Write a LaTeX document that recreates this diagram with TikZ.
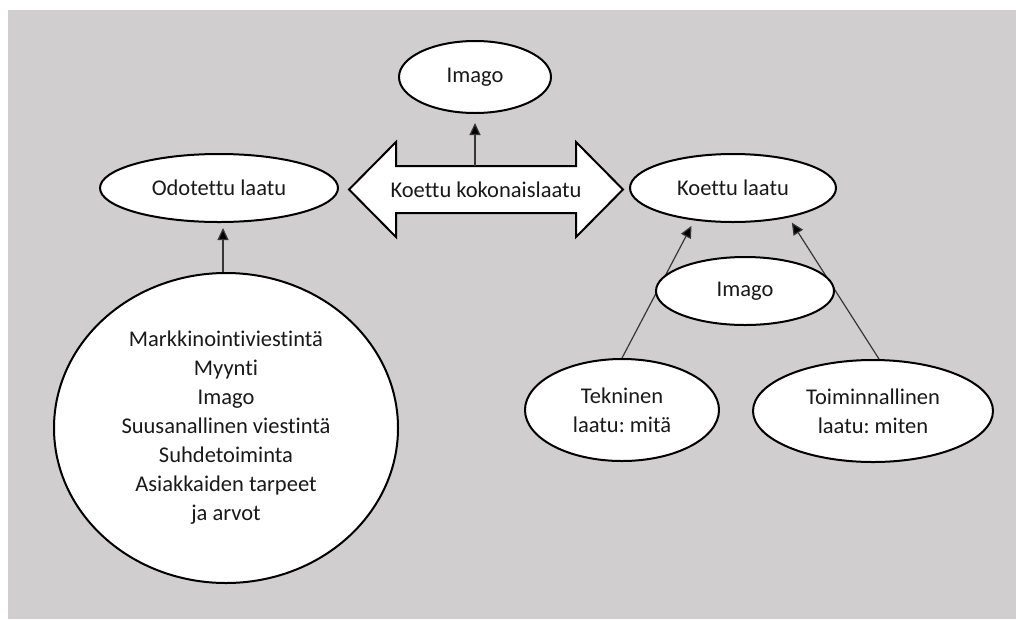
\documentclass[tikz,border=0pt]{standalone}
\usepackage{fontspec}
\setmainfont{Carlito}[Ligatures=NoCommon]
\usetikzlibrary{arrows.meta,calc,shapes.geometric}
\definecolor{bggrey}{RGB}{208,206,207}
\definecolor{txt}{RGB}{25,25,25}
\definecolor{connc}{RGB}{55,55,55}
\frenchspacing
\begin{document}
\begin{tikzpicture}[x=1pt,y=-1pt,
  oval/.style={ellipse,draw=black,line width=2pt,fill=white,inner sep=0pt,
    text=txt,font=\fontsize{22.5}{29}\selectfont,align=center},
  conn/.style={draw=connc,line width=1.2pt,-{Triangle[length=12pt,width=11pt,fill=black]}},
  bigarrow/.style={draw=black,line width=2pt,fill=white,line join=miter},
  labeltext/.style={inner sep=0pt,text=txt,font=\fontsize{22.5}{29}\selectfont}
]
\useasboundingbox (0,0) rectangle (1016,619);
\fill[bggrey] (8,10) rectangle (1016,619);

% left side
\node[oval,minimum width=238pt,minimum height=68pt] (odo) at (219,188) {Odotettu laatu};
\node[oval,minimum width=344pt,minimum height=310pt] (big) at (226,428)
  {Markkinointiviestintä\\Myynti\\Imago\\Suusanallinen viestintä\\Suhdetoiminta\\Asiakkaiden tarpeet\\ja arvot};
\draw[conn,shorten >=5pt] ([xshift=-3pt]big.north) -- ([xshift=-3pt]big.north |- odo.south);

% top
\node[oval,minimum width=152pt,minimum height=72pt] (img1) at (475,77) {Imago};
\draw[bigarrow] (396,166) -- (576,166) -- (576,142) -- (623,189.5) -- (576,237) -- (576,213)
  -- (396,213) -- (396,237) -- (349,189.5) -- (396,142) -- cycle;
\node[labeltext,minimum width=180pt,minimum height=47pt] (koko) at (486,189.5) {Koettu kokonaislaatu};
\draw[conn,shorten >=9pt] (koko.north -| img1.south) -- (img1.south);

% right side
\node[oval,minimum width=206pt,minimum height=68pt] (koe) at (733,188) {Koettu laatu};
\node[oval,minimum width=194pt,minimum height=102pt] (tek) at (622,410) {Tekninen\\laatu: mitä};
\node[oval,minimum width=240pt,minimum height=102pt] (toi) at (873,411) {Toiminnallinen\\laatu: miten};
\draw[conn,shorten >=6pt] (tek.north) -- (koe.220);
\draw[conn,shorten >=6pt] ([xshift=6pt]toi.north) -- (koe.-28);
\node[oval,minimum width=178pt,minimum height=68pt] (img2) at (745,291) {Imago};
\end{tikzpicture}
\end{document}
